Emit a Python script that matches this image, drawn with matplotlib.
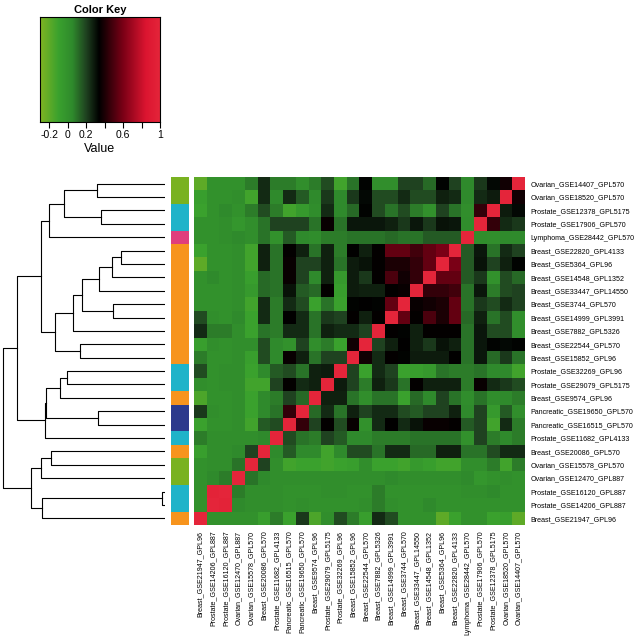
import numpy as np
import matplotlib
matplotlib.use("Agg")
import matplotlib.pyplot as plt
from matplotlib.colors import LinearSegmentedColormap

plt.rcParams["font.family"] = ["Liberation Sans", "DejaVu Sans"]

# row order, top to bottom (columns run in the reverse order)
labels = [
    "Ovarian_GSE14407_GPL570", "Ovarian_GSE18520_GPL570", "Prostate_GSE12378_GPL5175",
    "Prostate_GSE17906_GPL570", "Lymphoma_GSE28442_GPL570", "Breast_GSE22820_GPL4133",
    "Breast_GSE5364_GPL96", "Breast_GSE14548_GPL1352", "Breast_GSE33447_GPL14550",
    "Breast_GSE3744_GPL570", "Breast_GSE14999_GPL3991", "Breast_GSE7882_GPL5326",
    "Breast_GSE22544_GPL570", "Breast_GSE15852_GPL96", "Prostate_GSE32269_GPL96",
    "Prostate_GSE29079_GPL5175", "Breast_GSE9574_GPL96", "Pancreatic_GSE19650_GPL570",
    "Pancreatic_GSE16515_GPL570", "Prostate_GSE11682_GPL4133", "Breast_GSE20086_GPL570",
    "Ovarian_GSE15578_GPL570", "Ovarian_GSE12470_GPL887", "Prostate_GSE16120_GPL887",
    "Prostate_GSE14206_GPL887", "Breast_GSE21947_GPL96",
]
tissue = ["Ovarian", "Ovarian", "Prostate", "Prostate", "Lymphoma"] + ["Breast"] * 9 + \
    ["Prostate", "Prostate", "Breast", "Pancreatic", "Pancreatic", "Prostate", "Breast",
     "Ovarian", "Ovarian", "Prostate", "Prostate", "Breast"]
tissue_colors = {"Ovarian": "#79b221", "Prostate": "#1fb3c9", "Lymphoma": "#e03f7c",
                 "Breast": "#f7941d", "Pancreatic": "#2c3a8c"}

# each display row, read from the left edge up to the red diagonal cell
row_vals = [
    [-0.2, 0.0, 0.0, 0.0, 0.08, 0.25, 0.08, 0.08, 0.02, 0.08, 0.18, -0.12, 0.1, 0.33, 0.02, 0.02, 0.2, 0.2, 0.12, 0.33, 0.2, 0.05, 0.22, 0.32, 0.38],
    [-0.08, 0.0, 0.0, 0.02, -0.12, 0.25, 0.05, 0.25, 0.15, 0.05, 0.22, 0.05, 0.22, 0.32, 0.18, 0.18, 0.25, 0.18, 0.18, 0.27, 0.25, 0.05, 0.25, 0.28],
    [-0.1, 0.0, 0.05, 0.0, 0.08, 0.18, 0.08, -0.12, -0.05, 0.03, 0.25, 0.05, 0.12, 0.33, 0.18, 0.1, 0.18, 0.08, 0.0, 0.2, 0.1, 0.02, 0.45],
    [0.0, 0.0, 0.02, -0.03, 0.02, 0.1, 0.2, 0.2, 0.2, 0.1, 0.36, 0.1, 0.29, 0.29, 0.29, 0.27, 0.22, 0.29, 0.22, 0.3, 0.29, 0.03],
    [0.0, 0.0, 0.02, 0.05, 0.02, 0.1, 0.0, 0.15, 0.05, 0.03, 0.08, 0.08, 0.1, 0.1, 0.1, 0.12, 0.1, 0.1, 0.15, 0.15, 0.15],
    [-0.1, 0.0, 0.0, 0.02, -0.12, 0.27, 0.1, 0.35, 0.27, 0.1, 0.27, 0.08, 0.34, 0.27, 0.35, 0.55, 0.55, 0.48, 0.55, 0.6],
    [-0.2, 0.0, 0.0, 0.02, -0.12, 0.27, 0.1, 0.36, 0.2, 0.2, 0.27, 0.1, 0.28, 0.3, 0.35, 0.4, 0.4, 0.45, 0.55],
    [0.0, 0.05, 0.0, 0.02, -0.08, 0.12, 0.1, 0.36, 0.2, 0.05, 0.27, -0.05, 0.28, 0.22, 0.35, 0.5, 0.38, 0.45],
    [0.0, 0.0, 0.0, 0.02, -0.05, 0.12, 0.1, 0.3, 0.15, 0.12, 0.35, -0.08, 0.28, 0.27, 0.27, 0.35, 0.36],
    [0.0, 0.0, 0.0, 0.02, -0.12, 0.25, 0.08, 0.25, 0.18, -0.1, 0.1, -0.1, 0.33, 0.34, 0.33, 0.55],
    [0.18, 0.02, 0.0, 0.05, -0.1, 0.25, 0.08, 0.34, 0.25, 0.1, 0.22, 0.2, 0.35, 0.27, 0.35],
    [0.25, 0.08, 0.08, 0.02, -0.1, 0.1, 0.08, 0.25, 0.25, 0.1, 0.27, 0.25, 0.25, 0.2],
    [-0.08, 0.02, 0.0, 0.02, 0.02, 0.18, 0.05, 0.0, 0.2, 0.02, 0.08, -0.1, 0.38],
    [0.08, 0.0, 0.0, 0.02, -0.08, 0.18, 0.05, 0.36, 0.27, 0.1, 0.2, 0.2],
    [0.18, 0.0, 0.02, 0.02, -0.1, 0.05, 0.15, 0.18, 0.1, 0.27, 0.28],
    [0.02, 0.0, 0.02, 0.02, -0.12, -0.12, 0.2, 0.35, 0.25, 0.27],
    [-0.15, 0.0, 0.0, 0.02, -0.1, 0.05, 0.08, 0.2, 0.12],
    [0.22, 0.02, 0.0, 0.02, -0.1, 0.05, 0.1, 0.45],
    [-0.1, 0.0, 0.0, 0.02, -0.12, 0.15, 0.18],
    [0.08, 0.02, 0.02, 0.02, 0.02, 0.05],
    [-0.08, 0.02, 0.02, 0.05, 0.2],
    [0.0, 0.02, 0.02, 0.1],
    [0.0, 0.05, 0.08],
    [0.0, 0.98],
    [0.0],
    [],
]

# dendrogram merges: (child a, child b, height); ids >= 26 are earlier merges
merges = [
    (23, 24, 3), (5, 6, 44), (27, 7, 53), (9, 10, 52.5), (0, 1, 68), (17, 18, 67),
    (2, 3, 64), (28, 8, 66), (14, 15, 98), (33, 29, 83), (12, 13, 85), (35, 11, 92),
    (34, 16, 105), (20, 21, 114), (30, 32, 101), (37, 36, 110), (40, 4, 116),
    (38, 31, 119), (43, 19, 120), (39, 22, 124.5), (26, 25, 123), (42, 41, 124),
    (45, 46, 134), (47, 44, 148), (49, 48, 162.3),
]

n = len(labels)
M = np.eye(n)
for i, vals in enumerate(row_vals):
    for k, v in enumerate(vals):
        j = n - 1 - k
        M[i, j] = v
        M[j, i] = v
disp = M[:, ::-1]

cmap = LinearSegmentedColormap.from_list("gkr", [
    (0.0, "#80b422"), (0.2 / 1.3, "#3aa12e"), (0.35 / 1.3, "#2f8a2c"),
    (0.5 / 1.3, "#1f4220"), (0.64 / 1.3, "#000000"), (0.9 / 1.3, "#7a0016"),
    (1.15 / 1.3, "#dc1530"), (1.0, "#e4253a")])
vmin, vmax = -0.3, 1.0

fig = plt.figure(figsize=(6.4, 6.4), dpi=100)
W = H = 640.0
def px_axes(x0, y0, x1, y1):
    return fig.add_axes([x0 / W, 1 - y1 / H, (x1 - x0) / W, (y1 - y0) / H])

# heatmap
ax = px_axes(194, 177, 525, 525)
ax.imshow(disp, cmap=cmap, vmin=vmin, vmax=vmax, aspect="auto",
          interpolation="nearest", extent=(0, n, n, 0))
ax.set_xticks(np.arange(n) + 0.5)
ax.set_xticklabels(labels[::-1], rotation=90, fontsize=5.1)
ax.set_yticks(np.arange(n) + 0.5)
ax.set_yticklabels(labels, fontsize=5.1)
ax.yaxis.tick_right()
ax.tick_params(length=0, pad=4)
for s in ax.spines.values():
    s.set_visible(False)

# side colour bar
axs = px_axes(171, 177, 189, 525)
axs.barh(np.arange(n) + 0.5, 1, height=1, color=[tissue_colors[t] for t in tissue])
axs.set_xlim(0, 1); axs.set_ylim(n, 0); axs.axis("off")

# row dendrogram
axd = px_axes(0, 177, 165, 525)
pos = {i: (0.0, i + 0.5) for i in range(n)}
for k, (a, b, h) in enumerate(merges):
    ha, ya = pos[a]; hb, yb = pos[b]
    axd.plot([ha, h, h, hb], [ya, ya, yb, yb], color="black", lw=0.8)
    pos[n + k] = (h, (ya + yb) / 2)
axd.set_xlim(165, 0); axd.set_ylim(n, 0); axd.axis("off")

# colour key
axk = px_axes(40, 17, 160, 122)
grad = np.linspace(vmin, vmax, 256)[None, :]
axk.imshow(grad, cmap=cmap, vmin=vmin, vmax=vmax, aspect="auto", extent=(vmin, vmax, 0, 1))
axk.set_yticks([])
axk.set_xticks([-0.2, 0, 0.2, 0.4, 0.6, 0.8, 1])
axk.set_xticklabels(["-0.2", "0", "0.2", "", "0.6", "", "1"], fontsize=7.5)
axk.tick_params(axis="x", length=4, pad=2)
axk.set_xlabel("Value", fontsize=9, labelpad=2)
axk.set_title("Color Key", fontsize=8, fontweight="bold", pad=3)

fig.savefig("out.png", dpi=100)
